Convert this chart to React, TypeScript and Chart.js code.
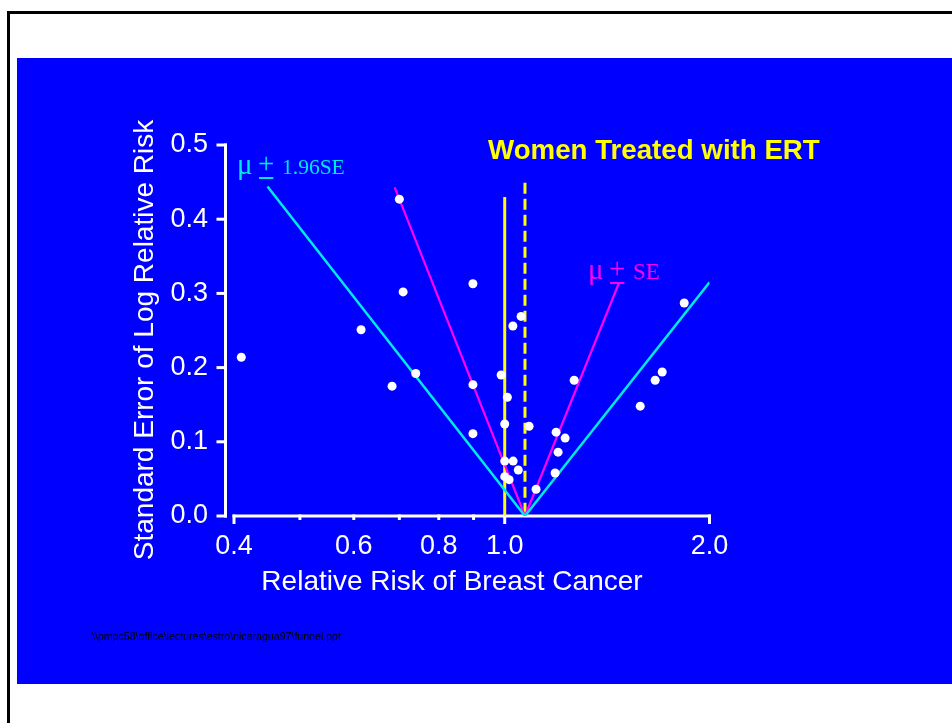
import React, { useEffect, useRef } from "react";
import { Chart, registerables } from "chart.js";

Chart.register(...registerables);

// Individual studies: relative risk (x) and standard error of log RR (y)
const studyRR = [0.410, 0.615, 0.683, 0.740, 0.700, 0.709, 0.898, 0.898, 0.898, 0.988, 1.009, 1.0, 1.028, 1.057, 1.086, 1.0, 1.029, 1.047, 1.0, 1.015, 1.112, 1.190, 1.227, 1.198, 1.186, 1.265, 1.582, 1.664, 1.704, 1.836];
const studySE = [0.214, 0.251, 0.175, 0.192, 0.427, 0.302, 0.313, 0.177, 0.111, 0.190, 0.160, 0.124, 0.256, 0.269, 0.121, 0.074, 0.074, 0.062, 0.053, 0.049, 0.036, 0.113, 0.105, 0.086, 0.058, 0.183, 0.148, 0.183, 0.194, 0.287];

// Funnel limits mu ± 1.96SE (cyan) and mu ± SE (magenta)
const limit196RR = [0.448, 1.071, 2.0];
const limit196SE = [0.444, 0, 0.315];
const limit1RR = [0.689, 1.071, 1.472];
const limit1SE = [0.443, 0, 0.314];

// Reference lines: RR = 1.0 (solid) and pooled mu (dashed)
const nullRR = [1.0, 1.0];
const nullSE = [0, 0.43];
const pooledRR = [1.071, 1.071];
const pooledSE = [0.449, 0];

const xTickValues = [0.4, 0.5, 0.6, 0.7, 0.8, 0.9, 1.0, 2.0];
const xTickLabels = ["0.4", "", "0.6", "", "0.8", "", "1.0", "2.0"];
const xMajorTicks = [0.4, 1.0, 2.0];
const yTickLabels = ["0.0", "0.1", "0.2", "0.3", "0.4", "0.5"];

const FONT = '"Liberation Sans", Arial, Helvetica, sans-serif';
const SERIF = '"Liberation Serif", "Times New Roman", serif';

const toPts = (xs: number[], ys: number[]) => xs.map((v, i) => ({ x: v, y: ys[i] }));

const decorPlugin = {
  id: "decor",
  beforeDatasetsDraw(chart: any) {
    const { ctx, chartArea, scales } = chart;
    const x = scales.x;
    const y = scales.y;
    ctx.save();
    ctx.strokeStyle = "#ffffff";
    ctx.lineWidth = 3;
    ctx.lineCap = "butt";
    // y axis (offset to the left)
    const ax = chartArea.left - 8.5;
    const y0 = y.getPixelForValue(0);
    const y5 = y.getPixelForValue(0.5);
    ctx.beginPath();
    ctx.moveTo(ax, y0 + 1.5);
    ctx.lineTo(ax, y5 - 1.5);
    ctx.stroke();
    y.ticks.forEach((t: any) => {
      const py = y.getPixelForValue(t.value);
      ctx.beginPath();
      ctx.moveTo(ax - 9, py);
      ctx.lineTo(ax + 1.5, py);
      ctx.stroke();
    });
    // x axis
    const xl = x.getPixelForValue(xTickValues[0]);
    const xr = x.getPixelForValue(xTickValues[xTickValues.length - 1]);
    ctx.beginPath();
    ctx.moveTo(xl - 1.5, y0);
    ctx.lineTo(xr + 1.5, y0);
    ctx.stroke();
    x.ticks.forEach((t: any) => {
      const px = x.getPixelForValue(t.value);
      const major = xMajorTicks.some((m) => Math.abs(m - t.value) < 1e-9);
      ctx.beginPath();
      ctx.moveTo(px, y0 - 1.5);
      ctx.lineTo(px, y0 + (major ? 8 : 4));
      ctx.stroke();
    });
    ctx.restore();
  },
  afterDraw(chart: any) {
    const { ctx, chartArea } = chart;
    ctx.save();
    // axis titles
    ctx.fillStyle = "#ffffff";
    ctx.font = `28px ${FONT}`;
    ctx.textAlign = "center";
    ctx.textBaseline = "alphabetic";
    ctx.fillText("Relative Risk of Breast Cancer", chartArea.left + 218, 590);
    ctx.save();
    ctx.translate(153, 340);
    ctx.rotate(-Math.PI / 2);
    ctx.fillText("Standard Error of Log Relative Risk", 0, 0);
    ctx.restore();

    // chart title
    ctx.fillStyle = "#ffff00";
    ctx.font = `bold 27.7px ${FONT}`;
    ctx.textAlign = "left";
    ctx.fillText("Women Treated with ERT", 488, 159);

    // funnel annotations
    const drawLabel = (x0: number, base: number, color: string, tail: string, tailSize: number) => {
      ctx.fillStyle = color;
      ctx.strokeStyle = color;
      ctx.textAlign = "left";
      ctx.font = `29px ${SERIF}`;
      ctx.fillText("\u03bc", x0 - 1, base);
      ctx.font = `29px ${SERIF}`;
      const px = x0 + 20;
      ctx.fillText("+", px, base - 1);
      const pw = ctx.measureText("+").width;
      ctx.lineWidth = 2;
      ctx.beginPath();
      ctx.moveTo(px + 1, base + 4);
      ctx.lineTo(px + pw - 1, base + 4);
      ctx.stroke();
      ctx.font = `${tailSize}px ${SERIF}`;
      ctx.fillText(tail, x0 + 44, base);
    };
    drawLabel(238, 174, "#00e8e8", "1.96SE", 21.5);
    drawLabel(589, 279, "#ff00ff", "SE", 23);

    // file path footnote
    ctx.fillStyle = "#000000";
    ctx.font = `10.6px ${FONT}`;
    ctx.textAlign = "left";
    ctx.textBaseline = "middle";
    ctx.fillText("\\\\pmpc58\\office\\lectures\\estro\\nicaragua97\\funnel.ppt", 92, 637);
    ctx.restore();
  },
};

export default function App() {
  const ref = useRef<HTMLCanvasElement | null>(null);

  useEffect(() => {
    if (!ref.current) return;
    const chart = new Chart(ref.current, {
      type: "scatter",
      data: {
        datasets: [
          {
            label: "Studies",
            data: toPts(studyRR, studySE),
            showLine: false,
            pointRadius: 4.5,
            pointBackgroundColor: "#ffffff",
            pointBorderWidth: 0,
          },
          {
            label: "mu ± 1.96SE",
            data: toPts(limit196RR, limit196SE),
            showLine: true,
            borderColor: "#00e8e8",
            borderWidth: 2.5,
            pointRadius: 0,
          },
          {
            label: "mu ± SE",
            data: toPts(limit1RR, limit1SE),
            showLine: true,
            borderColor: "#ff00ff",
            borderWidth: 2.2,
            pointRadius: 0,
          },
          {
            label: "RR = 1",
            data: toPts(nullRR, nullSE),
            showLine: true,
            borderColor: "#ffff00",
            borderWidth: 3,
            pointRadius: 0,
          },
          {
            label: "Pooled",
            data: toPts(pooledRR, pooledSE),
            showLine: true,
            borderColor: "#ffff00",
            borderWidth: 3,
            borderDash: [11, 5],
            pointRadius: 0,
          },
        ],
      } as any,
      options: {
        responsive: false,
        animation: false,
        devicePixelRatio: 1,
        layout: { padding: { left: 134, top: 145, right: 242.5, bottom: 147 } },
        plugins: {
          legend: { display: false },
          tooltip: { enabled: false },
          title: { display: false },
        },
        scales: {
          x: {
            type: "logarithmic",
            min: 0.4,
            max: 2.0,
            afterFit: (s: any) => {
              s.height = 60;
            },
            afterBuildTicks: (s: any) => {
              s.ticks = xTickValues.map((v) => ({ value: v }));
            },
            grid: { display: false, drawTicks: false, tickLength: 0 },
            border: { display: false },
            ticks: {
              color: "#ffffff",
              font: { family: FONT, size: 27 },
              padding: 14,
              autoSkip: false,
              maxRotation: 0,
              minRotation: 0,
              callback: (v: any) => {
                const i = xTickValues.findIndex((t) => Math.abs(t - Number(v)) < 1e-9);
                return i >= 0 ? xTickLabels[i] : "";
              },
            },
          },
          y: {
            type: "linear",
            min: 0,
            max: 0.5,
            afterFit: (s: any) => {
              s.width = 100;
            },
            grid: { display: false, drawTicks: false, tickLength: 0 },
            border: { display: false },
            ticks: {
              stepSize: 0.1,
              color: "#ffffff",
              font: { family: FONT, size: 27 },
              padding: 26,
              callback: (v: any) => yTickLabels[Math.round(Number(v) * 10)] ?? "",
            },
          },
        },
      } as any,
      plugins: [decorPlugin],
    });
    return () => chart.destroy();
  }, []);

  return (
    <div
      style={{
        position: "absolute",
        left: 0,
        top: 0,
        width: 952,
        height: 723,
        overflow: "hidden",
        background: "#ffffff",
      }}
    >
      <div
        style={{
          position: "absolute",
          left: 7,
          top: 11,
          width: 1000,
          height: 1000,
          borderLeft: "3px solid #000",
          borderTop: "3px solid #000",
        }}
      />
      <div
        style={{
          position: "absolute",
          left: 17,
          top: 58,
          width: 935,
          height: 626,
          background: "#0000ff",
        }}
      />
      <canvas
        ref={ref}
        width={952}
        height={723}
        style={{ position: "absolute", left: 0, top: 0, width: 952, height: 723 }}
      />
    </div>
  );
}
